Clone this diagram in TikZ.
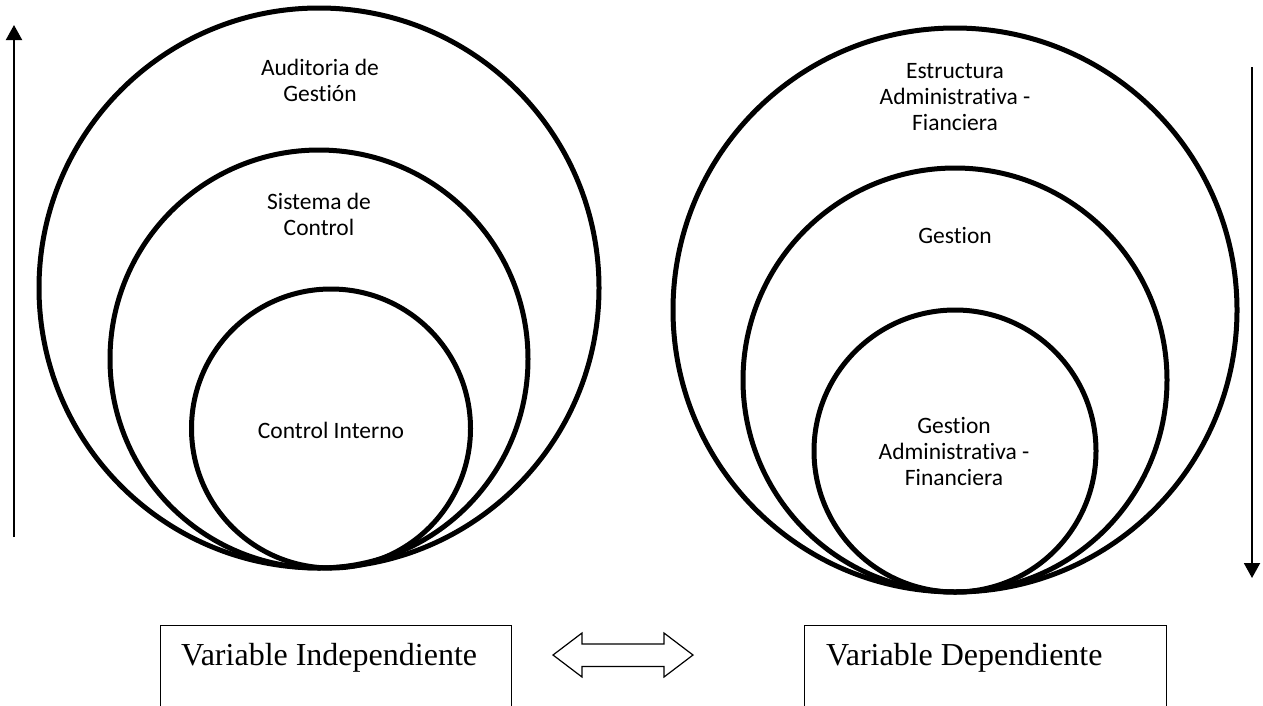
\documentclass[tikz,border=0pt]{standalone}
\usepackage{fontspec}
\setmainfont{Liberation Serif}
\newfontfamily\calibfont[Ligatures=NoCommon]{Carlito}
\usetikzlibrary{arrows.meta}
\begin{document}
\begin{tikzpicture}[x=1pt,y=-1pt,
  ring/.style={circle,draw,line width=5pt,inner sep=0pt},
  ringlabel/.style={font=\calibfont\fontsize{23.5}{26}\selectfont,align=center,inner sep=0pt},
  varbox/.style={draw,line width=1.2pt,anchor=north west,inner sep=0pt},
  vartext/.style={font=\fontsize{32}{38}\selectfont,anchor=base west,inner sep=0pt},
  trend/.style={line width=2pt,-{Triangle[length=15pt,width=16pt]}},
  hollowarrow/.style={draw,line width=1.2pt,line join=miter}]
\useasboundingbox (0,0) rectangle (1263,705);
\clip (0,0) rectangle (1263,705);

% independent variable: nested circles
\node[ring,minimum size=560pt] (audit) at (319,288) {};
\node[ring,minimum size=418pt] (sistema) at (319,359) {};
\node[ring,minimum size=279pt] (interno) at (331,428.5) {};
\node[ringlabel] (lAudit) at (320,80) {Auditoria de\\Gestión};
\node[ringlabel] (lSistema) at (319,214) {Sistema de\\Control};
\node[ringlabel] (lInterno) at (331,430) {Control Interno};

% dependent variable: nested circles
\node[ring,minimum size=564pt] (estructura) at (955,310) {};
\node[ring,minimum size=424pt] (gestion) at (955,380) {};
\node[ring,minimum size=282pt] (gadm) at (955,451) {};
\node[ringlabel] (lEstructura) at (955,97) {Estructura\\Administrativa -\\Fianciera};
\node[ringlabel] (lGestion) at (955,235) {Gestion};
\node[ringlabel] (lGadm) at (954,451) {Gestion\\Administrativa -\\Financiera};

% side arrows
\coordinate (upFrom) at (14,537);
\coordinate (upTo) at (14,25);
\draw[trend] (upFrom) -- (upTo);
\coordinate (downFrom) at (1252,67);
\coordinate (downTo) at (1252,578);
\draw[trend] (downFrom) -- (downTo);

% variable boxes
\node[varbox,minimum width=351pt,minimum height=120pt] (indep) at (160,625) {};
\node[vartext] (tIndep) at ([shift={(21,40)}]indep.north west) {Variable Independiente};
\node[varbox,minimum width=362pt,minimum height=120pt] (dep) at (804,625) {};
\node[vartext] (tDep) at ([shift={(22,40)}]dep.north west) {Variable Dependiente};

% hollow double arrow between the boxes
\coordinate (link) at (623,655);
\begin{scope}[shift={(link)}]
\draw[hollowarrow] (-70,0) -- (-41,-22) -- (-41,-11) -- (41,-11) -- (41,-22) -- (70,0)
  -- (41,22) -- (41,11.5) -- (-41,11.5) -- (-41,22) -- cycle;
\end{scope}
\end{tikzpicture}
\end{document}
